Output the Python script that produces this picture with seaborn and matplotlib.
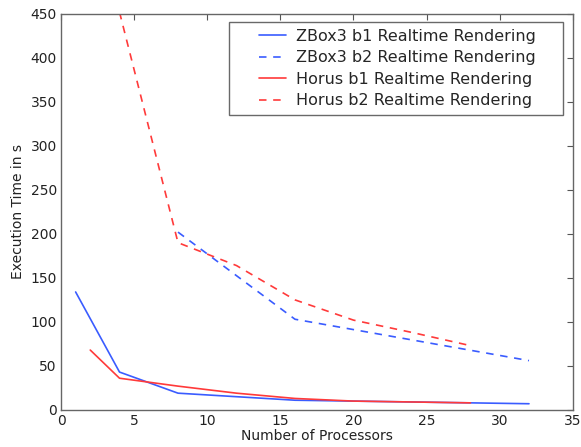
import numpy as np
import pandas as pd
import seaborn as sns
import matplotlib
matplotlib.use("Agg")
import matplotlib.pyplot as plt
from matplotlib.lines import Line2D
from matplotlib.legend_handler import HandlerLine2D

series_names = ["ZBox3 b1 Realtime Rendering", "ZBox3 b2 Realtime Rendering",
                "Horus b1 Realtime Rendering", "Horus b2 Realtime Rendering"]

zbox_b1_x = [1, 4, 8, 16, 32]
zbox_b1_y = [134, 43, 19, 11, 7]
zbox_b2_x = [8, 16, 32]
zbox_b2_y = [202, 103, 56]
horus_b1_x = [2, 4, 8, 12, 16, 20, 24, 28]
horus_b1_y = [68, 36, 27, 19, 13, 10, 9, 8]
horus_b2_x = [4, 8, 12, 16, 20, 24, 28]
horus_b2_y = [452, 190, 164, 125, 102, 88, 73]

frames = []
for name, xs, ys in zip(series_names,
                        [zbox_b1_x, zbox_b2_x, horus_b1_x, horus_b2_x],
                        [zbox_b1_y, zbox_b2_y, horus_b1_y, horus_b2_y]):
    frames.append(pd.DataFrame({"Processors": xs, "Time": ys, "Series": name}))
df = pd.concat(frames, ignore_index=True)

sns.set_style("white")
plt.rcParams['font.family'] = ['DejaVu Sans']

fig = plt.figure(figsize=(5.81, 4.47), dpi=100)
ax = fig.add_axes([0.105, 0.083, 0.881, 0.886])

blue = "#3a5cff"
red = "#ff3a3a"
palette = {series_names[0]: blue, series_names[1]: blue,
           series_names[2]: red, series_names[3]: red}
dashes = {series_names[0]: "", series_names[1]: (4.5, 4),
          series_names[2]: "", series_names[3]: (4.5, 4)}

sns.lineplot(data=df, x="Processors", y="Time", hue="Series", style="Series",
             palette=palette, dashes=dashes, linewidth=1.2, ax=ax,
             sort=False, estimator=None, hue_order=series_names, style_order=series_names)

ax.set_xlim(0, 35)
ax.set_ylim(0, 450)
ax.set_xticks(np.arange(0, 36, 5))
ax.set_yticks(np.arange(0, 451, 50))
ax.set_xlabel("Number of Processors", fontsize=10, color="#222222", labelpad=1)
ax.set_ylabel("Execution Time in s", fontsize=10, color="#222222", labelpad=4)
ax.tick_params(direction="in", top=True, right=True, length=4, width=0.8,
               labelsize=10, colors="#555555", labelcolor="#222222", pad=3)
for s in ax.spines.values():
    s.set_color("#666666")
    s.set_linewidth(1.0)


class ShiftedHandler(HandlerLine2D):
    def get_xdata(self, legend, xdescent, ydescent, width, height, fontsize):
        x0 = -xdescent + width * 0.46
        x1 = -xdescent + width
        xd = np.array([x0, x1])
        return xd, xd


handles, labels = ax.get_legend_handles_labels()
leg = ax.legend(handles, labels, loc="upper left", fontsize=11.5, frameon=True,
                fancybox=False, edgecolor="#444444", borderpad=0.45,
                handlelength=3.1, handletextpad=0.65, labelspacing=0.4,
                bbox_to_anchor=(0.328, 0.0, 0.6525, 0.980), mode="expand",
                borderaxespad=0.0, handler_map={Line2D: ShiftedHandler()})
leg.get_frame().set_linewidth(1.0)

fig.savefig("out.png", dpi=100)
